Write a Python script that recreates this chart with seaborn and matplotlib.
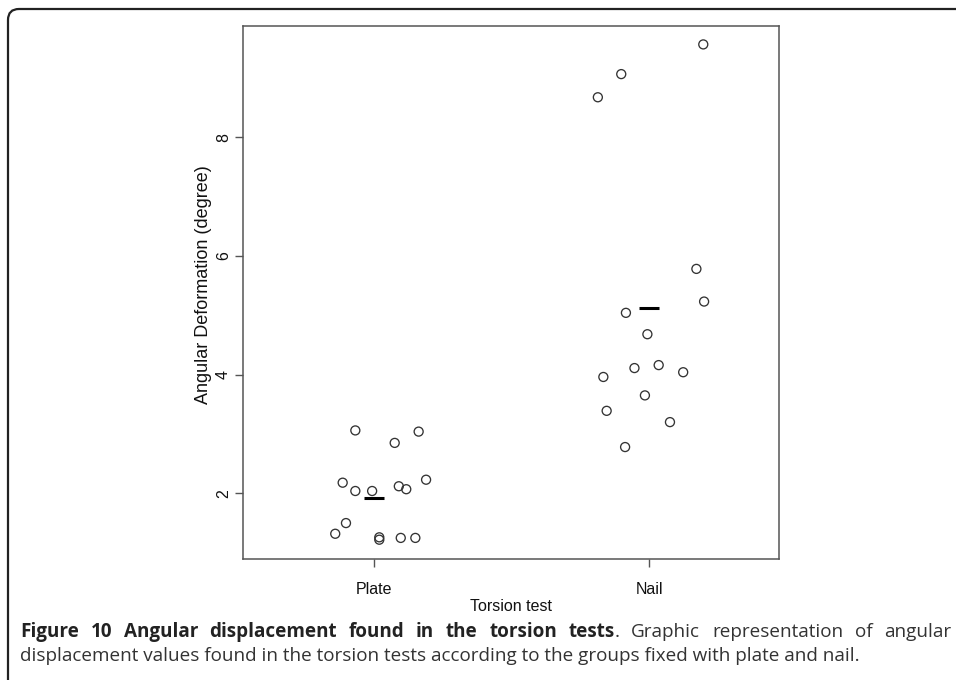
import numpy as np
import pandas as pd
import matplotlib
matplotlib.use("Agg")
import matplotlib.pyplot as plt
import seaborn as sns
from matplotlib.path import Path
from matplotlib.patches import PathPatch

# ---------------- data ----------------
groups = ["Plate", "Nail"]
plate_values = [3.06, 3.04, 2.85, 2.18, 2.23, 2.04, 2.04, 2.12, 2.07,
                1.50, 1.32, 1.26, 1.22, 1.25, 1.25]
nail_values = [9.56, 9.06, 8.67, 5.78, 5.23, 5.04, 4.68, 4.11, 4.16,
               4.04, 3.96, 3.65, 3.39, 3.20, 2.78]
# horizontal jitter of each point (category units), as seen in the picture
plate_jitter = [-0.068, 0.162, 0.075, -0.114, 0.189, -0.068, -0.007, 0.090,
                0.117, -0.102, -0.141, 0.019, 0.019, 0.097, 0.150]
nail_jitter = [0.196, -0.102, -0.187, 0.171, 0.199, -0.085, -0.007, -0.054,
               0.034, 0.123, -0.167, -0.016, -0.155, 0.075, -0.088]
group_means = [1.93, 5.12]
y_ticks = [2, 4, 6, 8]

x_label = "Torsion test"
y_label = "Angular Deformation (degree)"
caption_bold = "Figure 10 Angular displacement found in the torsion tests"
caption_line1 = ". Graphic representation of angular"
caption_line2 = ("displacement values found in the torsion tests according to the "
                 "groups fixed with plate and nail.")

df = pd.DataFrame({
    "group": ["Plate"] * len(plate_values) + ["Nail"] * len(nail_values),
    "value": plate_values + nail_values,
    "jitter": plate_jitter + nail_jitter,
})
df["xpos"] = df["group"].map({g: i for i, g in enumerate(groups)}) + df["jitter"]

# ---------------- figure ----------------
sns.set_style("white")
plt.rcParams["font.family"] = ["Liberation Sans", "DejaVu Sans"]

W, H = 956, 680
fig = plt.figure(figsize=(W / 100, H / 100), dpi=100)
ax = fig.add_axes([243.3 / W, 1 - 558.7 / H, (778.7 - 243.3) / W, (558.7 - 26) / H])

sns.scatterplot(data=df, x="xpos", y="value", ax=ax, marker="o",
                facecolors="none", edgecolor="#333333", s=42, linewidth=0.95,
                legend=False)
for i, m in enumerate(group_means):
    ax.hlines(m, i - 0.036, i + 0.036, color="black", linewidth=2.2)

ax.set_xlim(-0.475, 1.470)
ax.set_ylim(0.90, 9.87)
ax.set_xticks(range(len(groups)))
ax.set_xticklabels(groups)
ax.set_yticks(y_ticks)
ax.set_yticklabels([str(t) for t in y_ticks], rotation=90, va="center")

for sp in ax.spines.values():
    sp.set_visible(True)
    sp.set_color("#555555")
    sp.set_linewidth(1.1)

ax.tick_params(axis="both", which="major", direction="out", length=6, width=1,
               color="#555555", labelsize=11.5, labelcolor="#111111",
               bottom=True, left=True)
ax.tick_params(axis="x", pad=11)
ax.tick_params(axis="y", pad=3)

ax.set_xlabel(x_label, fontsize=11.5, color="#111111")
ax.set_ylabel(y_label, fontsize=13, color="#111111")
ax.xaxis.set_label_coords(0.5, -0.076)
ax.yaxis.set_label_coords(-0.058, 0.514)

# ---------------- caption ----------------
cap_font = ["Open Sans", "DejaVu Sans"]
renderer = fig.canvas.get_renderer()

# fit the caption font size so the second (natural) line ends where it does
size = 16.0
target = 861 - 20
while True:
    t = fig.text(20 / W, 0, caption_line2, fontsize=size, family=cap_font)
    w = t.get_window_extent(renderer).width
    t.remove()
    if w <= target or size < 6:
        break
    size -= 0.1

base1 = 1 - 637 / H
base2 = 1 - 661 / H

# first line is justified: bold words, then "." glued to the last bold word
tokens = [(wd, "bold", False) for wd in caption_bold.split()]
normal_words = caption_line1.split()          # ['.', 'Graphic', ...]
tokens.append((normal_words[0], "normal", True))
tokens += [(wd, "normal", False) for wd in normal_words[1:]]

widths = []
for txt, wt, _ in tokens:
    t = fig.text(0, 0, txt, fontsize=size, family=cap_font, weight=wt)
    widths.append(t.get_window_extent(renderer).width)
    t.remove()
n_gaps = sum(1 for _, _, glued in tokens[1:] if not glued)
gap = (951 - 20 - sum(widths)) / n_gaps
x = 20.0
for k, ((txt, wt, glued), w) in enumerate(zip(tokens, widths)):
    if k > 0 and not glued:
        x += gap
    fig.text(x / W, base1, txt, fontsize=size, family=cap_font, weight=wt,
             color="#222222" if wt == "bold" else "#333333", va="baseline")
    x += w

fig.text(20 / W, base2, caption_line2, fontsize=size, family=cap_font,
         color="#333333", va="baseline")

# ---------------- outer rounded border (left + top) ----------------
r = 11
verts = [(8, H), (8, 9 + r), (8, 9), (8 + r, 9), (W, 9)]
codes = [Path.MOVETO, Path.LINETO, Path.CURVE3, Path.CURVE3, Path.LINETO]
verts = [(x / W, 1 - y / H) for x, y in verts]
fig.patches.append(PathPatch(Path(verts, codes), transform=fig.transFigure,
                             fill=False, edgecolor="#222222", linewidth=1.6))

fig.savefig("out.png", dpi=100)
